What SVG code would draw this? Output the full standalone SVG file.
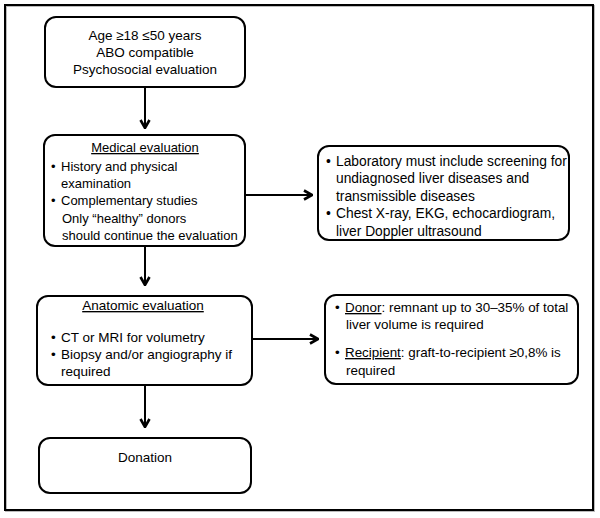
<svg xmlns="http://www.w3.org/2000/svg" width="600" height="518" viewBox="0 0 600 518">
<defs>
<style>
text{font-family:"Liberation Sans",Arial,sans-serif;font-size:13.5px;fill:#000}
.c{text-anchor:middle}
.u{text-decoration:underline}
.s13{font-size:13px}
.s138{font-size:13.8px}
.s134{font-size:13.4px}
.box{fill:#fff;stroke:#000;stroke-width:2}
.conn{stroke:#000;stroke-width:2;fill:none}
</style>
<marker id="ah" markerUnits="userSpaceOnUse" viewBox="0 0 10 12" refX="9" refY="6" markerWidth="10" markerHeight="12" orient="auto">
<path d="M1,1.5 L9,6 L1,10.5" fill="none" stroke="#000" stroke-width="2.6"/>
</marker>
</defs>
<rect x="0" y="0" width="600" height="518" fill="#fff"/>
<rect x="6" y="6" width="588" height="505" fill="none" stroke="#bbb" stroke-width="2"/>
<rect x="5" y="5" width="588" height="505" fill="none" stroke="#000" stroke-width="2"/>

<g id="connectors">
<line class="conn" x1="145" y1="87" x2="145" y2="128" marker-end="url(#ah)"/>
<line class="conn" x1="245" y1="195" x2="312" y2="195" marker-end="url(#ah)"/>
<line class="conn" x1="145" y1="246" x2="145" y2="285" marker-end="url(#ah)"/>
<line class="conn" x1="252" y1="339" x2="318" y2="339" marker-end="url(#ah)"/>
<line class="conn" x1="145" y1="385" x2="145" y2="427" marker-end="url(#ah)"/>
</g>

<g id="n1">
<rect class="box" x="45" y="17" width="200" height="70" rx="11"/>
<text class="c" x="145" y="40">Age ≥18 ≤50 years</text>
<text class="c" x="145" y="57">ABO compatible</text>
<text class="c" x="145" y="74">Psychosocial evaluation</text>
</g>

<g id="n2" class="s13">
<rect class="box" x="44" y="135" width="201" height="111" rx="11"/>
<text class="c u s13" x="145" y="152">Medical evaluation</text>
<text class="s13" x="51" y="171">•</text>
<text class="s13" x="61" y="171">History and physical</text>
<text class="s13" x="61" y="188">examination</text>
<text class="s13" x="51" y="205">•</text>
<text class="s13" x="61" y="205">Complementary studies</text>
<text class="s13" x="62" y="223">Only “healthy” donors</text>
<text class="s13" x="62" y="240">should continue the evaluation</text>
</g>

<g id="n3">
<rect class="box" x="318" y="146" width="251" height="94" rx="11"/>
<text class="s138" x="326" y="166">•</text>
<text class="s138" x="336" y="166">Laboratory must include screening for</text>
<text class="s138" x="336" y="183">undiagnosed liver diseases and</text>
<text class="s138" x="336" y="201">transmissible diseases</text>
<text class="s138" x="326" y="218">•</text>
<text class="s138" x="336" y="218">Chest X-ray, EKG, echocardiogram,</text>
<text class="s138" x="336" y="236">liver Doppler ultrasound</text>
</g>

<g id="n4">
<rect class="box" x="37" y="296" width="215" height="89" rx="11"/>
<text class="c u" x="143" y="310">Anatomic evaluation</text>
<text x="51" y="342">•</text>
<text x="61" y="342">CT or MRI for volumetry</text>
<text x="51" y="359">•</text>
<text x="61" y="359">Biopsy and/or angiography if</text>
<text x="61" y="376">required</text>
</g>

<g id="n5">
<rect class="box" x="325" y="295" width="253" height="89" rx="11"/>
<text class="s134" x="335" y="312">•</text>
<text class="s134" x="345" y="312"><tspan class="u">Donor</tspan>: remnant up to 30–35% of total</text>
<text class="s134" x="346" y="329">liver volume is required</text>
<text class="s134" x="335" y="357">•</text>
<text class="s134" x="345" y="357"><tspan class="u">Recipient</tspan>: graft-to-recipient ≥0,8% is</text>
<text class="s134" x="346" y="375">required</text>
</g>

<g id="n6">
<rect class="box" x="39" y="438" width="212" height="55" rx="11"/>
<text class="c" x="145" y="462">Donation</text>
</g>
</svg>
